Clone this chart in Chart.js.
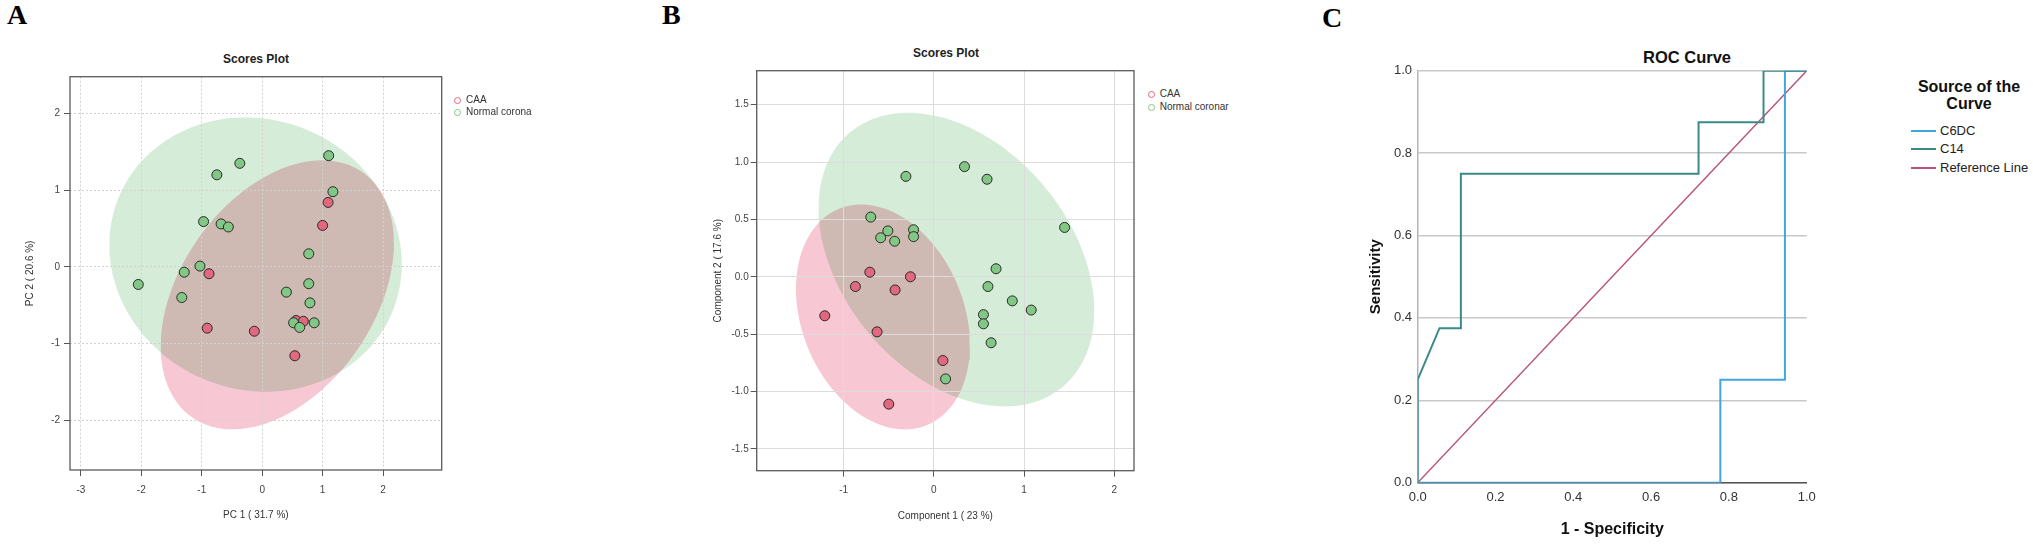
<!DOCTYPE html>
<html>
<head>
<meta charset="utf-8">
<title>Scores plots and ROC curve</title>
<script src="https://cdn.jsdelivr.net/npm/chart.js@4.4.1/dist/chart.umd.min.js"></script>
<style>
  body { margin: 0; background: #fff; }
  #fig { position: relative; width: 2033px; height: 544px; overflow: hidden; font-family: "Liberation Sans", Arial, sans-serif; color: #222; }
  .box { position: absolute; top: 0; height: 544px; }
  .letter { position: absolute; font-family: "Liberation Serif", "Times New Roman", serif; font-weight: bold; font-size: 28px; line-height: 28px; color: #000; }
  .txt { position: absolute; white-space: nowrap; line-height: 1; transform: translate(-50%, -50%); }
  .leg { position: absolute; font-size: 10px; color: #333; }
  .leg .row { display: flex; align-items: center; white-space: nowrap; }
  .dot { width: 5px; height: 5px; border: 1.5px solid; border-radius: 50%; }
  .seg { width: 25px; height: 2px; margin-right: 4px; }
</style>
</head>
<body>
<div id="fig">
  <div class="letter" style="left:7px; top:1px;">A</div>
  <div class="letter" style="left:662px; top:1px;">B</div>
  <div class="letter" style="left:1322px; top:4px;">C</div>

  <div class="txt" style="left:256px; top:59px; font-size:12px; font-weight:bold;">Scores Plot</div>
  <div class="txt" style="left:946px; top:53px; font-size:12px; font-weight:bold;">Scores Plot</div>
  <div class="txt" style="left:1687px; top:57px; font-size:16.5px; font-weight:bold; color:#111;">ROC Curve</div>

  <div class="box" style="left:0; width:460px;"><canvas id="chartA"></canvas></div>
  <div class="box" style="left:700px; width:440px;"><canvas id="chartB"></canvas></div>
  <div class="box" style="left:1350px; width:475px;"><canvas id="chartC"></canvas></div>

  <div class="leg" id="legA" style="left:454px; top:94px; line-height:12px;"></div>
  <div class="leg" id="legB" style="left:1148px; top:88.4px; line-height:12.6px;"></div>
  <div class="txt" style="left:1969px; top:96px; font-size:16px; font-weight:bold; line-height:16.6px; text-align:center; color:#111;">Source of the<br>Curve</div>
  <div class="leg" id="legC" style="left:1911px; top:121.5px; font-size:13px; line-height:18.5px; color:#222;"></div>
</div>

<script>
// ---------- panel A : PCA scores ----------
var groupsA = ['CAA', 'Normal corona'];
var caaA_x = [1.09, 1.00, -0.88, -0.91, -0.13, 0.56, 0.68, 0.54];
var caaA_y = [0.84, 0.54, -0.09, -0.80, -0.84, -0.70, -0.71, -1.16];
var normalA_x = [1.10, -0.37, -0.75, 1.17, -0.97, -0.68, -0.56, 0.77, -1.03, -1.29, -2.05, -1.33, 0.40, 0.77, 0.79, 0.52, 0.62, 0.86];
var normalA_y = [1.45, 1.35, 1.20, 0.98, 0.59, 0.56, 0.52, 0.17, 0.01, -0.07, -0.23, -0.40, -0.33, -0.22, -0.47, -0.73, -0.79, -0.73];
// 95% region: centre x, centre y, half width, half height, tilt (correlation)
var regionA_caa = [0.25, -0.365, 1.93, 1.755, 0.384];
var regionA_normal = [-0.11, 0.16, 2.42, 1.79, -0.07];

// ---------- panel B : PLS-DA scores ----------
var groupsB = ['CAA', 'Normal coronar'];
var caaB_x = [-0.71, -0.26, -0.87, -0.43, -1.21, -0.63, 0.10, -0.50];
var caaB_y = [0.04, 0.00, -0.085, -0.115, -0.34, -0.48, -0.73, -1.11];
var normalB_x = [-0.31, 0.34, 0.59, 1.45, -0.70, -0.51, -0.59, -0.435, -0.225, -0.225, 0.69, 0.60, 0.87, 1.08, 0.55, 0.55, 0.635, 0.13];
var normalB_y = [0.875, 0.96, 0.85, 0.43, 0.52, 0.40, 0.34, 0.31, 0.41, 0.35, 0.07, -0.085, -0.21, -0.29, -0.33, -0.41, -0.575, -0.89];
var regionB_caa = [-0.565, -0.35, 0.965, 0.98, -0.25];
var regionB_normal = [0.25, 0.15, 1.53, 1.28, -0.35];

// ---------- panel C : ROC ----------
var rocNames = ['C6DC', 'C14', 'Reference Line'];
var c6dc_fpr = [0, 0.778, 0.778, 0.944, 0.944, 1];
var c6dc_tpr = [0, 0, 0.25, 0.25, 1, 1];
var c14_fpr = [0, 0, 0.056, 0.111, 0.111, 0.722, 0.722, 0.889, 0.889, 1];
var c14_tpr = [0, 0.25, 0.375, 0.375, 0.75, 0.75, 0.875, 0.875, 1, 1];
var ref_fpr = [0, 1];
var ref_tpr = [0, 1];

var redPt = '#e2687f', greenPt = '#82c785';
var pinkFill = '#f7c8d4', greenFill = '#d5ecd8';
var rocColors = ['#3fa7de', '#3b8a88', '#b8527c'];
var FONT = '"Liberation Sans", Arial, sans-serif';

function toPoints(xs, ys) {
  return xs.map(function (x, i) { return {x: x, y: ys[i]}; });
}

function regionOutline(e) {
  var pts = [], k = Math.sqrt(1 - e[4] * e[4]);
  for (var i = 0; i <= 90; i++) {
    var t = i / 90 * 2 * Math.PI;
    pts.push({x: e[0] + e[2] * Math.cos(t), y: e[1] + e[3] * (e[4] * Math.cos(t) + k * Math.sin(t))});
  }
  return pts;
}

// overlapping group regions blend like R's transparent fills
var multiplyFill = {
  id: 'multiplyFill',
  beforeRender: function (chart) { chart.ctx.globalCompositeOperation = 'multiply'; },
  beforeDraw: function (chart) { chart.ctx.globalCompositeOperation = 'source-over'; }
};
var frameBox = {
  id: 'frameBox',
  afterDatasetsDraw: function (chart, args, opts) {
    var a = chart.chartArea, ctx = chart.ctx;
    ctx.save();
    ctx.strokeStyle = opts.color;
    ctx.lineWidth = opts.width;
    ctx.strokeRect(a.left, a.top, a.right - a.left, a.bottom - a.top);
    ctx.restore();
  }
};

function makeScores(id, c) {
  var gridX = {color: c.gridColor, tickLength: 6, tickColor: '#555', tickWidth: 1};
  var gridY = {color: c.gridColor, tickLength: 6, tickColor: '#555', tickWidth: 1};
  return new Chart(document.getElementById(id), {
    type: 'scatter',
    data: {datasets: [
      {label: c.names[1], data: toPoints(c.normal[0], c.normal[1]), backgroundColor: greenPt, borderColor: '#2a2a2a', borderWidth: 1, pointRadius: 5, order: 0},
      {label: c.names[0], data: toPoints(c.caa[0], c.caa[1]), backgroundColor: redPt, borderColor: '#2a2a2a', borderWidth: 1, pointRadius: 5, order: 1},
      {type: 'line', data: regionOutline(c.regCaa), backgroundColor: pinkFill, borderWidth: 0, pointRadius: 0, tension: 0, fill: 'shape', order: 2},
      {type: 'line', data: regionOutline(c.regNormal), backgroundColor: greenFill, borderWidth: 0, pointRadius: 0, tension: 0, fill: 'shape', order: 2}
    ]},
    options: {
      responsive: true, maintainAspectRatio: false, animation: false,
      layout: {padding: c.padding},
      plugins: {legend: {display: false}, tooltip: {enabled: false}, filler: {drawTime: 'beforeDraw'},
        frameBox: {color: '#5a5a5a', width: 1.3}},
      scales: {
        x: {type: 'linear', min: c.xRange[0], max: c.xRange[1],
          ticks: {stepSize: c.xStep, includeBounds: false, color: '#444', padding: c.xPad, font: {family: FONT, size: 10}},
          grid: gridX, border: {display: false, dash: c.dash},
          title: {display: true, text: c.xTitle, color: '#333', font: {family: FONT, size: 10}, padding: {top: 0, bottom: c.xTitlePad}},
          afterFit: function (s) { s.height = c.xHeight; }},
        y: {type: 'linear', min: c.yRange[0], max: c.yRange[1],
          ticks: {stepSize: c.yStep, includeBounds: false, color: '#444', padding: c.yPad, font: {family: FONT, size: 10},
            callback: c.yFmt},
          grid: gridY, border: {display: false, dash: c.dash},
          title: {display: true, text: c.yTitle, color: '#333', font: {family: FONT, size: 10}, padding: {top: c.yTitlePad, bottom: 0}},
          afterFit: function (s) { s.width = c.yWidth; }}
      }
    },
    plugins: [multiplyFill, frameBox]
  });
}

makeScores('chartA', {
  names: groupsA, caa: [caaA_x, caaA_y], normal: [normalA_x, normalA_y],
  regCaa: regionA_caa, regNormal: regionA_normal,
  xRange: [-3.18, 2.97], yRange: [-2.65, 2.48], xStep: 1, yStep: 1,
  yFmt: function (v) { return v; },
  xTitle: 'PC 1 ( 31.7 %)', yTitle: 'PC 2 ( 20.6 %)',
  gridColor: '#d2d2d2', dash: [2, 2],
  padding: {left: 0, right: 18.3, top: 76.7, bottom: 0},
  xHeight: 74, xPad: 8, xTitlePad: 22.4, yWidth: 70, yPad: 4, yTitlePad: 24
});

makeScores('chartB', {
  names: groupsB, caa: [caaB_x, caaB_y], normal: [normalB_x, normalB_y],
  regCaa: regionB_caa, regNormal: regionB_normal,
  xRange: [-1.965, 2.22], yRange: [-1.69, 1.796], xStep: 1, yStep: 0.5,
  yFmt: function (v) { return v.toFixed(1); },
  xTitle: 'Component 1 ( 23 %)', yTitle: 'Component 2 ( 17.6 %)',
  gridColor: '#dcdcdc', dash: [],
  padding: {left: 0, right: 5, top: 70.7, bottom: 0},
  xHeight: 73.3, xPad: 8, xTitlePad: 21.4, yWidth: 56.7, yPad: 2, yTitlePad: 12
});

new Chart(document.getElementById('chartC'), {
  type: 'line',
  data: {datasets: [
    {label: rocNames[1], data: toPoints(c14_fpr, c14_tpr), borderColor: rocColors[1], borderWidth: 2, pointRadius: 0, tension: 0, fill: false, order: 0},
    {label: rocNames[0], data: toPoints(c6dc_fpr, c6dc_tpr), borderColor: rocColors[0], borderWidth: 2, pointRadius: 0, tension: 0, fill: false, order: 1},
    {label: rocNames[2], data: toPoints(ref_fpr, ref_tpr), borderColor: rocColors[2], borderWidth: 1.4, pointRadius: 0, tension: 0, fill: false, order: 2}
  ]},
  options: {
    responsive: true, maintainAspectRatio: false, animation: false,
    layout: {padding: {left: 0, right: 18.3, top: 70.7, bottom: 0}},
    plugins: {legend: {display: false}, tooltip: {enabled: false}},
    scales: {
      x: {type: 'linear', min: 0, max: 1,
        ticks: {stepSize: 0.2, color: '#333', padding: 6.8, font: {family: FONT, size: 13},
          callback: function (v) { return v.toFixed(1); }},
        grid: {display: false, drawTicks: false},
        border: {color: '#555', width: 1.5},
        title: {display: true, text: '1 - Specificity', color: '#111', font: {family: FONT, size: 16, weight: 'bold'}, padding: {top: 0, bottom: 4.5}},
        afterFit: function (s) { s.height = 61.3; }},
      y: {type: 'linear', min: 0, max: 1,
        ticks: {stepSize: 0.2, color: '#333', padding: 5.7, font: {family: FONT, size: 13},
          callback: function (v) { return v.toFixed(1); }},
        grid: {color: '#c8c8c8', lineWidth: 1.5, drawTicks: false},
        border: {color: '#b4b4b4', width: 1.5},
        title: {display: true, text: 'Sensitivity', color: '#111', font: {family: FONT, size: 15, weight: 'bold'}, padding: {top: 17, bottom: 0}},
        afterFit: function (s) { s.width = 67.7; }}
    }
  }
});

// html legends
function scoresLegend(id, names, gap) {
  var cols = [redPt, greenPt];
  document.getElementById(id).innerHTML = names.map(function (n, i) {
    return '<div class="row"><span class="dot" style="border-color:' + cols[i] + '; margin-right:' + gap + 'px"></span>' + n + '</div>';
  }).join('');
}
scoresLegend('legA', groupsA, 5);
scoresLegend('legB', groupsB, 4.7);
document.getElementById('legC').innerHTML = rocNames.map(function (n, i) {
  return '<div class="row"><span class="seg" style="background:' + rocColors[i] + '"></span>' + n + '</div>';
}).join('');
</script>
</body>
</html>
